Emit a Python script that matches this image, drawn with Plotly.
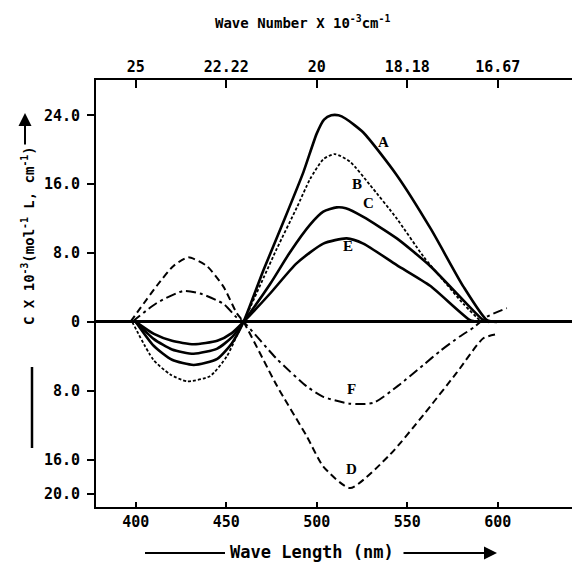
import plotly.graph_objects as go

# ---------------- data ----------------
wl_A = [400, 410, 420, 432, 445, 453, 459.5, 470.5, 481.5, 492.6, 500, 504, 508, 512, 516, 525.7, 544, 563, 581, 594, 599.5]
cd_A = [0, -2.8, -4.4, -5.0, -4.3, -2.5, 0, 6.0, 11.6, 17.4, 21.9, 23.5, 24.0, 24.0, 23.6, 22.0, 17.1, 10.8, 4.1, 0.2, 0]

wl_B = [398, 409.7, 419, 428.2, 441, 450.3, 455.8, 459.5, 477.9, 489, 496.3, 503.6, 510, 518.4, 529.4, 544.2, 558.9, 570, 581, 590.2, 594]
cd_B = [0, -4.4, -6.1, -6.9, -6.3, -4.0, -1.6, 0, 8.5, 13.3, 16.6, 18.9, 19.5, 18.6, 15.9, 12.0, 7.6, 4.8, 2.1, 0.2, 0]

wl_C = [400, 410, 420, 432, 445, 453, 459.5, 474.2, 485.2, 496.3, 503.6, 511, 516, 525.7, 544.2, 562.6, 581, 592, 595]
cd_C = [0, -2.0, -3.2, -3.7, -3.1, -1.8, 0, 4.4, 8.1, 11.3, 12.8, 13.3, 13.2, 12.2, 9.7, 6.5, 2.5, 0.2, 0]

wl_E = [400, 410, 420, 432, 445, 453, 459.5, 474.2, 488.8, 503.6, 516.5, 525.7, 544.2, 562.6, 584.7, 589]
cd_E = [0, -1.4, -2.2, -2.6, -2.2, -1.3, 0, 3.3, 6.8, 9.1, 9.7, 9.1, 6.6, 4.2, 0.2, 0]

wl_D = [397, 411.6, 420.8, 429, 439.2, 448.4, 455.8, 459.5, 477.9, 494.5, 503.6, 518.4, 540.5, 558.9, 577.3, 592, 600]
cd_D = [0, 4.2, 6.5, 7.5, 6.5, 4.1, 1.0, 0, -7.4, -13.3, -16.8, -19.3, -15.4, -10.8, -5.9, -1.9, -1.4]

wl_F = [398, 411.6, 426.3, 435.5, 448.4, 455.8, 459.5, 477.9, 494.5, 503.6, 518.4, 531.3, 545, 558.9, 568, 579, 587, 594, 605]
cd_F = [0, 2.2, 3.6, 3.3, 2.1, 0.5, 0, -4.3, -7.5, -8.7, -9.5, -9.4, -7.4, -5.0, -3.4, -1.7, -0.6, 0.6, 1.6]

x_ticks = [400, 450, 500, 550, 600]
y_ticks = [24, 16, 8, 0, -8, -16, -20]
y_tick_text = ["24.0", "16.0", "8.0", "0", "8.0", "16.0", "20.0"]
wn_tick_text = [f"{1e4 / w:.2f}".rstrip("0").rstrip(".") for w in x_ticks]

# ---------------- figure ----------------
W, H = 572, 562
ML, MR, MT, MB = 96, 0, 80, 55
PW, PH = W - ML - MR, H - MT - MB

def paper(px, py):
    return (px - ML) / PW, (H - MB - py) / PH

MONO = "DejaVu Sans Mono"
SERIF = "Liberation Serif"

fig = go.Figure()

series = [
    (wl_A, cd_A, "solid", 2.6),
    (wl_C, cd_C, "solid", 2.6),
    (wl_E, cd_E, "solid", 2.6),
    (wl_B, cd_B, "3px,2px", 1.8),
    (wl_D, cd_D, "7px,4px", 2.0),
    (wl_F, cd_F, "10px,4px,3px,4px", 2.0),
]
for wl, cd, dash, lw in series:
    fig.add_trace(go.Scatter(
        x=wl, y=cd, mode="lines",
        line=dict(color="black", width=lw, dash=dash, shape="spline", smoothing=0.6),
        showlegend=False, hoverinfo="skip",
    ))

# curve labels
for txt, lx, ly in [("A", 536.6, 20.9), ("B", 522.2, 16.0), ("C", 528.3, 13.8),
                    ("E", 517.2, 8.8), ("F", 519.4, -7.8), ("D", 519.4, -17.1)]:
    fig.add_annotation(x=lx, y=ly, xref="x", yref="y", text=txt, showarrow=False,
                       xanchor="center", yanchor="middle",
                       font=dict(family=SERIF, size=15, color="black", weight="bold"))

xr = [378, 641]
yr = [-21.5, 28.1]

fig.update_layout(
    width=W, height=H,
    margin=dict(l=ML, r=MR, t=MT, b=MB, pad=0),
    paper_bgcolor="white", plot_bgcolor="white",
    font=dict(family=MONO, size=15, color="black", weight="bold"),
    xaxis=dict(range=xr, tickvals=x_ticks, ticks="inside", ticklen=5, tickwidth=2,
               tickcolor="black", showline=True, linewidth=2, linecolor="black",
               showgrid=False, zeroline=False),
    xaxis2=dict(range=xr, overlaying="x", side="top", anchor="y",
                tickvals=x_ticks, ticktext=wn_tick_text, ticks="inside", ticklen=8,
                tickwidth=2, tickcolor="black", showline=True, linewidth=2,
                linecolor="black", showgrid=False, zeroline=False),
    yaxis=dict(range=yr, tickvals=y_ticks, ticktext=y_tick_text, ticks="outside",
               ticklen=7, tickwidth=2, tickcolor="black", showline=True, linewidth=2,
               linecolor="black", showgrid=False, zeroline=True, zerolinewidth=2.5,
               zerolinecolor="black", ticklabelstandoff=4),
)

# invisible trace to keep the top axis alive
fig.add_trace(go.Scatter(x=[], y=[], xaxis="x2", yaxis="y", showlegend=False, hoverinfo="skip"))

# title (top)
tx, ty = paper(302, 22)
fig.add_annotation(x=tx, y=ty, xref="paper", yref="paper", showarrow=False,
                   xanchor="center", yanchor="middle",
                   text="Wave Number X 10<sup>-3</sup>cm<sup>-1</sup>",
                   font=dict(family=MONO, size=14, weight="bold"))

# x label with arrows
lx, ly = paper(312, 552)
fig.add_annotation(x=lx, y=ly, xref="paper", yref="paper", showarrow=False,
                   xanchor="center", yanchor="middle",
                   text="Wave Length (nm)", font=dict(family=MONO, size=17, weight="bold"))
a0x, a0y = paper(145, 553)
a1x, a1y = paper(225, 553)
fig.add_shape(type="line", xref="paper", yref="paper", x0=a0x, y0=a0y, x1=a1x, y1=a1y,
              line=dict(color="black", width=2))
hx, hy = paper(497, 553)
fig.add_annotation(x=hx, y=hy, xref="paper", yref="paper", text="", showarrow=True,
                   ax=-95, ay=0, arrowhead=2, arrowsize=1.3, arrowwidth=2, arrowcolor="black")

# y label with arrow
yx, yy = paper(28, 236)
fig.add_annotation(x=yx, y=yy, xref="paper", yref="paper", showarrow=False, textangle=-90,
                   xanchor="center", yanchor="middle",
                   text="C X 10<sup>-3</sup>(mol<sup>-1</sup> L, cm<sup>-1</sup>)",
                   font=dict(family=MONO, size=14, weight="bold"))
ux, uy = paper(25, 113)
fig.add_annotation(x=ux, y=uy, xref="paper", yref="paper", text="", showarrow=True,
                   ax=0, ay=33, arrowhead=2, arrowsize=1.3, arrowwidth=2, arrowcolor="black")
b0x, b0y = paper(32, 367)
b1x, b1y = paper(32, 448)
fig.add_shape(type="line", xref="paper", yref="paper", x0=b0x, y0=b0y, x1=b1x, y1=b1y,
              line=dict(color="black", width=2.5))

fig.write_html("out.html")
